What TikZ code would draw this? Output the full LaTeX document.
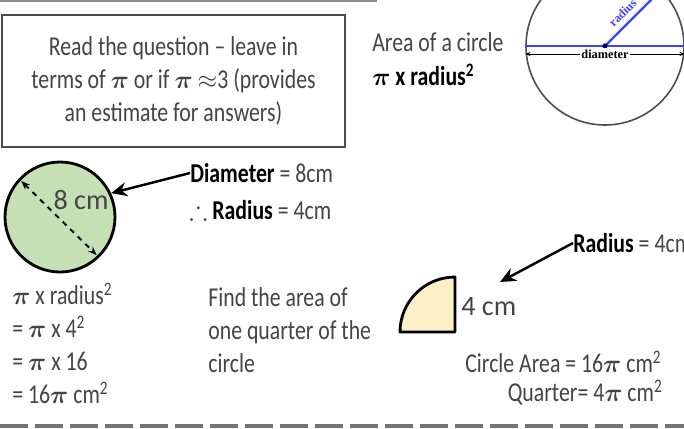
\documentclass[tikz,border=0pt]{standalone}
\usepackage{amsmath,amssymb}
\usepackage{fontspec}
\setmainfont{Carlito}[FakeStretch=0.8]
\newfontfamily\plainsans{Carlito}
\newfontfamily\smallserif{Liberation Serif}
\usepackage{tikz}
\usetikzlibrary{arrows.meta}

\definecolor{leafgreen}{RGB}{197,224,180}
\definecolor{paleyellow}{RGB}{253,239,199}
\definecolor{inkgray}{RGB}{68,68,68}

\newcommand{\bpi}{$\boldsymbol{\pi}$}
\newcommand{\sqr}{\textsuperscript{2}}
\newcommand{\keyword}[1]{\textcolor{black}{\bfseries #1}}

\begin{document}
\begin{tikzpicture}[>=Stealth,
    hand/.style={text=inkgray,font=\fontsize{15.5}{18.7}\selectfont,inner sep=0pt},
    cmlabel/.style={text=inkgray,font=\plainsans\fontsize{16}{18}\selectfont,inner sep=0pt},
    tinylabel/.style={font=\smallserif\bfseries\fontsize{7}{8}\selectfont,inner sep=1pt},
    pointer/.style={->,line width=1.4pt,>={Stealth[length=9pt,width=8pt]}}]
    \useasboundingbox (0,0) rectangle (13.68,-8.56);
    \draw [black!45,line width=1.1pt] (0,-0.02) -- (7.54,-0.02);
    % hint box
    \node [hand,draw=black!70,line width=1.6pt,minimum width=6.86cm,minimum height=2.64cm,align=center] (hint) at (3.47,-1.62)
        {Read the question -- leave in\\terms of \bpi{} or if \bpi{} $\approx$3 (provides\\an estimate for answers)};
    \node [hand,anchor=west] (areaname) at (7.44,-0.84) {Area of a circle};
    \node [hand,text=black,anchor=west] (areaformula) at (7.44,-1.50) {\bfseries\bpi{} x radius\sqr};
    % reference circle
    \node [circle,draw=black!70,line width=0.9pt,minimum size=3.16cm,inner sep=0pt] (refcirc) at (12.10,-0.92) {};
    \draw [blue!75,line width=1.3pt] (refcirc.west) -- (refcirc.east);
    \draw [blue!75,line width=1.3pt] (refcirc.center) -- (refcirc.45) node [tinylabel,pos=0.45,sloped,above=2pt] {radius};
    \fill [blue!40!black] (refcirc.center) circle [radius=1.5pt];
    \draw [<->,>={Stealth[length=3pt]},line width=0.5pt] ([yshift=-0.16cm]refcirc.west) -- ([yshift=-0.16cm]refcirc.east)
        node [tinylabel,midway,fill=white] {diameter};
    % whole circle
    \node [circle,draw,fill=leafgreen,line width=1.6pt,minimum size=2.2cm,inner sep=0pt] (wholecirc) at (1.20,-4.34) {};
    \draw [<->,dashed,line width=1.1pt,>={Stealth[length=5pt]},shorten <=2pt,shorten >=2pt] (wholecirc.137) -- (wholecirc.-46);
    \node [cmlabel] (dialen) at (1.62,-4.00) {8 cm};
    \node [hand,anchor=west] (diatext) at (3.80,-3.46) {\keyword{Diameter} = 8cm};
    \node [hand,anchor=west] (radtext) at (3.78,-4.20) {$\therefore$ \keyword{Radius} = 4cm};
    \draw [pointer] (diatext.west) -- (wholecirc.25);
    \node [hand,anchor=west,align=left] (working) at (0.24,-6.87)
        {\bpi{} x radius\sqr\\= \bpi{} x 4\sqr\\= \bpi{} x 16\\= 16\bpi{} cm\sqr};
    \node [hand,anchor=west,align=left] (task) at (4.16,-6.60) {Find the area of\\one quarter of the\\circle};
    % quarter circle
    \coordinate (qcorner) at (9.10,-6.64);
    \filldraw [fill=paleyellow,line width=1.6pt,line join=round] (qcorner) -- ++(-1.10,0) arc [start angle=180,end angle=90,radius=1.10] -- cycle;
    \node [cmlabel,anchor=west] (qlen) at (9.22,-6.14) {4 cm};
    \node [hand,anchor=west] (qradtext) at (11.46,-4.86) {\keyword{Radius} = 4cm};
    \coordinate (qtip) at (10.00,-5.64);
    \draw [pointer] (qradtext.west) -- (qtip);
    \node [hand,anchor=west] (circarea) at (9.30,-7.24) {Circle Area = 16\bpi{} cm\sqr};
    \node [hand,anchor=east] (quarterarea) at (13.26,-7.86) {Quarter= 4\bpi{} cm\sqr};
    \draw [black!55,line width=2.3pt,dash pattern=on 0.56cm off 0.14cm] (0,-8.52) -- (13.68,-8.52);
\end{tikzpicture}
\end{document}
